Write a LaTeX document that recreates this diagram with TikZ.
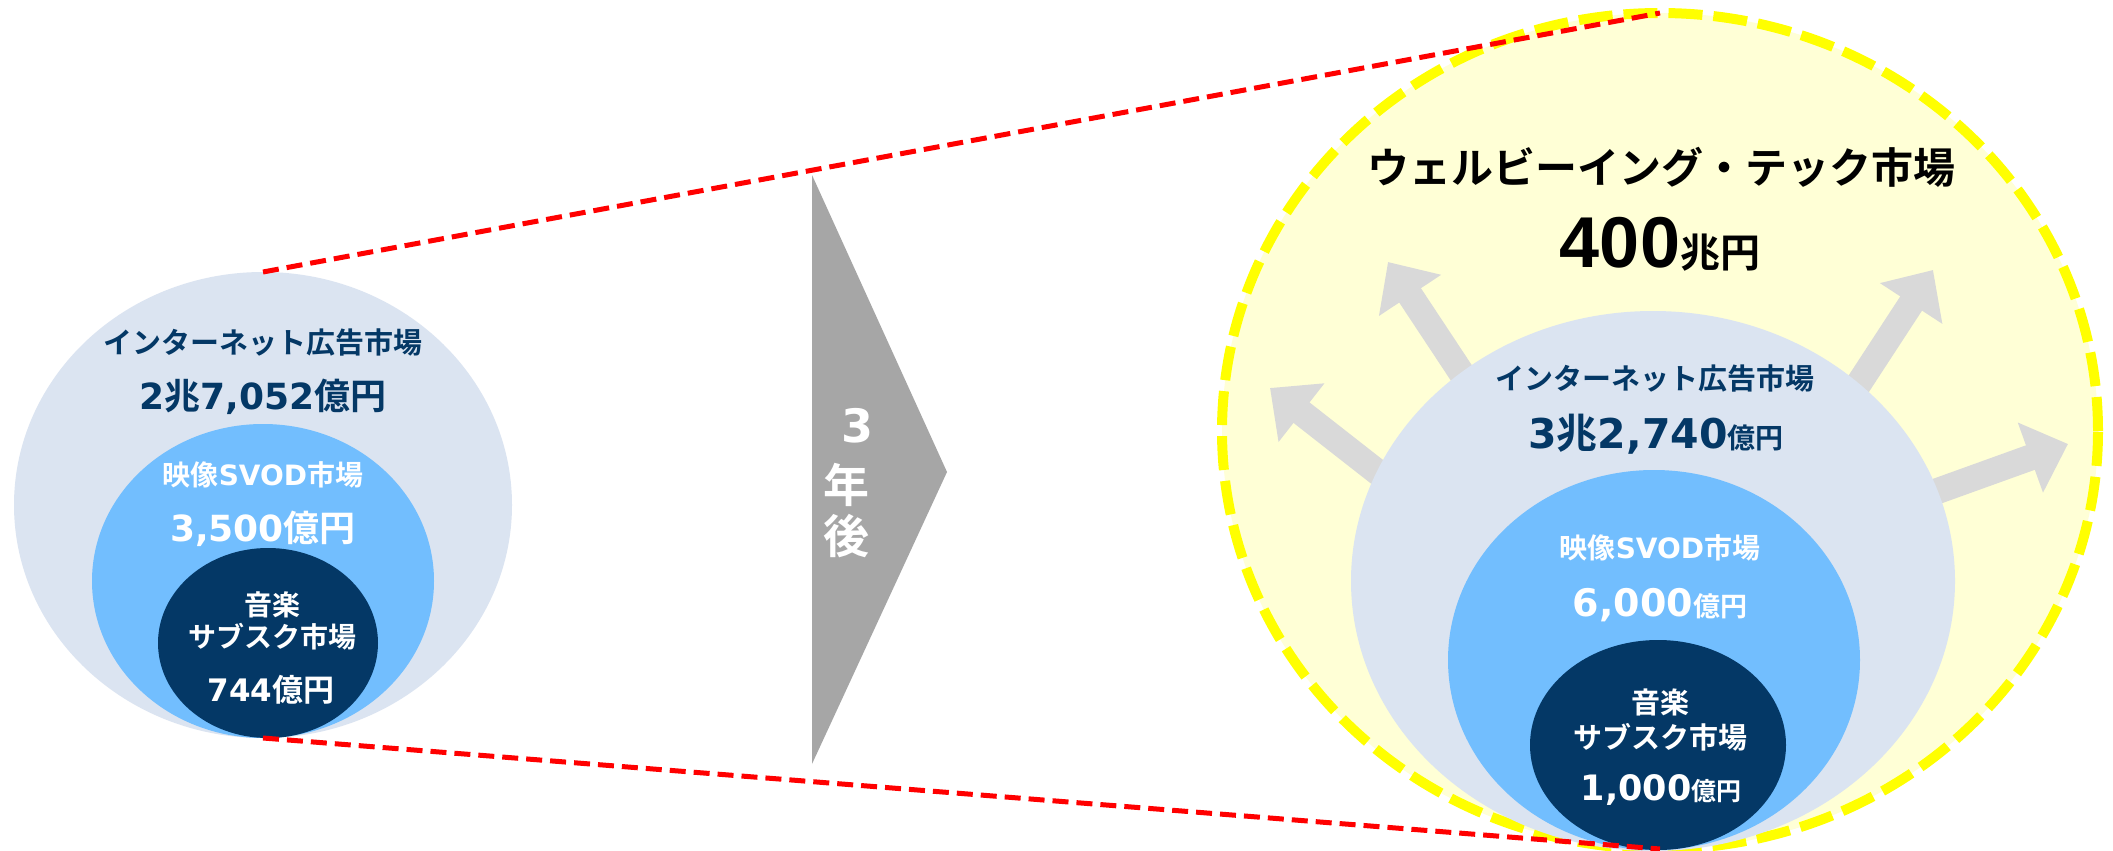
\documentclass[tikz,border=0pt]{standalone}
\usepackage{fontspec}
\usetikzlibrary{shapes.geometric,arrows.meta}
\newfontfamily\jpb{Noto Sans CJK JP Bold}
\newfontfamily\dvs{DejaVu Sans}
\newfontfamily\lbs{Liberation Sans}
\newcommand\fs[1]{\fontsize{#1}{#1}\selectfont}
\newcommand\J{\jpb\mdseries}
\newcommand\D{\dvs\bfseries}
\newcommand\A{\lbs\bfseries}
\definecolor{navy}{RGB}{4,56,102}
\definecolor{outerblue}{RGB}{219,228,241}
\definecolor{midblue}{RGB}{114,190,254}
\definecolor{yfill}{RGB}{255,255,214}
\definecolor{ystroke}{RGB}{255,255,0}
\definecolor{arrgray}{RGB}{217,217,217}
\definecolor{chevgray}{RGB}{166,166,166}
\begin{document}
\begin{tikzpicture}[x=1pt,y=-1pt,
  mk/.style={ellipse, inner sep=0pt, outer sep=0pt},
  lab/.style={inner sep=0pt, anchor=center},
  growarrow/.style={draw=arrgray, line width=26pt, -{Triangle[width=72pt,length=40pt]}},
  reddash/.style={draw=red, line width=5pt, dash pattern=on 16pt off 8pt}]
\useasboundingbox (0,0) rectangle (2113,851);
\fill[white] (0,0) rectangle (2113,851);

% ---------- left: today ----------
\node[mk, fill=outerblue, minimum width=498pt, minimum height=466pt] (L1) at (263,505) {};
\node[mk, fill=midblue, minimum width=342pt, minimum height=314pt] (L2) at (263,581) {};
\node[mk, fill=navy, minimum width=220pt, minimum height=190pt] (L3) at (268,643) {};

\node[lab, text=navy] (tL1) at (263,342) {\J\fs{29}インターネット広告市場};
\node[lab, text=navy] (vL1) at (263,397) {\fs{36}\D 2\J 兆\D 7,052\J 億円};
\node[lab, text=white] (tL2) at (263,475) {\fs{28}\J 映像\D SVOD\J 市場};
\node[lab, text=white] (vL2) at (263,529) {\fs{36}\D 3,500\J 億円};
\node[lab, text=white] (tL3a) at (272,605) {\J\fs{28}音楽};
\node[lab, text=white] (tL3b) at (272,637) {\J\fs{28}サブスク市場};
\node[lab, text=white] (vL3) at (271,690) {\fs{31}\D 744\J 億円};

% ---------- chevron ----------
\fill[chevgray] (812,175) -- (947,472) -- (812,764) -- cycle;
\node[lab, text=white] (c3) at (857,426) {\D\fs{46}3};
\node[lab, text=white] (c4) at (846,485) {\J\fs{46}年};
\node[lab, text=white] (c5) at (846,536) {\J\fs{46}後};

% ---------- right: three years later ----------
\node[mk, fill=yfill, draw=ystroke, line width=10pt, dash pattern=on 34pt off 11pt,
      minimum width=876pt, minimum height=836pt] (R0) at (1660,431) {};
\node[lab, text=black] (tR0) at (1661,167) {\J\fs{42}ウェルビーイング・テック市場};
\node[lab, text=black] (vR0) at (1660,244) {\A\fs{72}400\J\fs{40}兆円};

\coordinate (a1s) at (1470,386); \coordinate (a1t) at (1388,262);
\coordinate (a2s) at (1854,391); \coordinate (a2t) at (1933,270);
\coordinate (a3s) at (1385,478); \coordinate (a3t) at (1270,388);
\coordinate (a4s) at (1932,493); \coordinate (a4t) at (2068,444);
\draw[growarrow] (a1s) -- (a1t);
\draw[growarrow] (a2s) -- (a2t);
\draw[growarrow] (a3s) -- (a3t);
\draw[growarrow] (a4s) -- (a4t);

\node[mk, fill=outerblue, minimum width=604pt, minimum height=540pt] (R1) at (1653,581) {};
\node[mk, fill=midblue, minimum width=412pt, minimum height=380pt] (R2) at (1654,660) {};
\node[mk, fill=navy, minimum width=256pt, minimum height=210pt] (R3) at (1658,745) {};

\node[lab, text=navy] (tR1) at (1655,378) {\J\fs{29}インターネット広告市場};
\node[lab, text=navy] (vR1) at (1656,434) {\D\fs{41}3\J 兆\D 2,740\J\fs{28}億円};
\node[lab, text=white] (tR2) at (1660,548) {\fs{28}\J 映像\D SVOD\J 市場};
\node[lab, text=white] (vR2) at (1660,605) {\D\fs{38}6,000\J\fs{27}億円};
\node[lab, text=white] (tR3a) at (1660,702) {\J\fs{29}音楽};
\node[lab, text=white] (tR3b) at (1660,737) {\J\fs{29}サブスク市場};
\node[lab, text=white] (vR3) at (1661,790) {\D\fs{35}1,000\J\fs{25}億円};

% ---------- red zoom lines ----------
\draw[reddash] (L1.north) -- (R0.north);
\draw[reddash] (L1.south) -- (R0.south);
\end{tikzpicture}
\end{document}
